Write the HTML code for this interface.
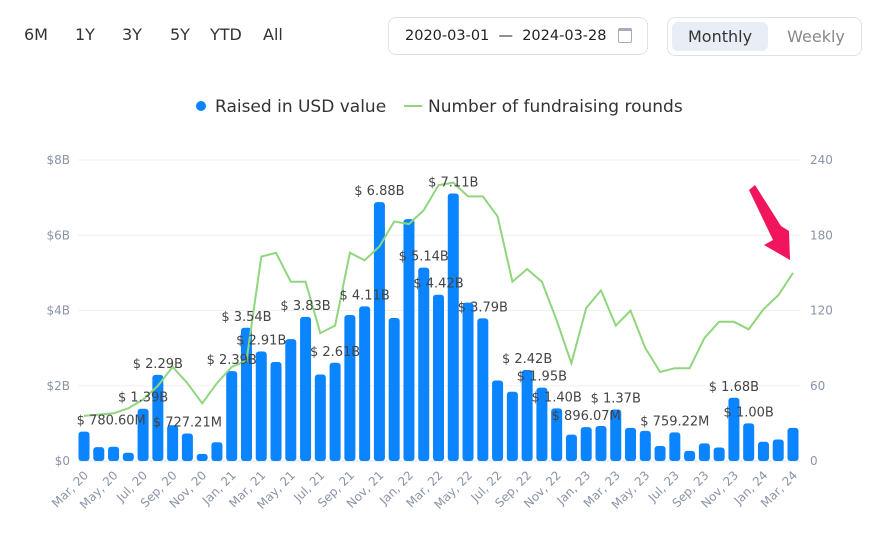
<!DOCTYPE html>
<html><head><meta charset="utf-8"><style>
body{margin:0;width:878px;height:543px;background:#fff;font-family:"DejaVu Sans","Liberation Sans",sans-serif;overflow:hidden;position:relative}
.rng{position:absolute;top:25px;font-size:16px;color:#333}
</style></head><body>
<div class="rng" style="left:24px">6M</div>
<div class="rng" style="left:75px">1Y</div>
<div class="rng" style="left:122px">3Y</div>
<div class="rng" style="left:170px">5Y</div>
<div class="rng" style="left:210px">YTD</div>
<div class="rng" style="left:263px">All</div>
<div style="position:absolute;left:388px;top:17px;width:260px;height:38px;border:1px solid #dde2ea;border-radius:8px;box-sizing:border-box;font-size:14.5px;color:#222;line-height:36px;padding-left:16px">2020-03-01 &nbsp;— &nbsp;2024-03-28<span style="position:absolute;left:229px;top:10px;width:14px;height:15px;border:1.5px solid #aab;border-top-width:3px;border-radius:2px;box-sizing:border-box"></span></div>
<div style="position:absolute;left:667px;top:17px;width:195px;height:39px;border:1px solid #dde2ea;border-radius:8px;box-sizing:border-box">
<div style="position:absolute;left:4px;top:4px;width:96px;height:29px;background:#e9eef6;border-radius:6px;font-size:16px;color:#333;text-align:center;line-height:29px">Monthly</div>
<div style="position:absolute;left:108px;top:4px;width:80px;height:29px;font-size:16px;color:#888;text-align:center;line-height:29px">Weekly</div>
</div>
<svg id="c" width="878" height="543" style="position:absolute;left:0;top:0"></svg>
<script>
const months=["Mar, 20","Apr, 20","May, 20","Jun, 20","Jul, 20","Aug, 20","Sep, 20","Oct, 20","Nov, 20","Dec, 20","Jan, 21","Feb, 21","Mar, 21","Apr, 21","May, 21","Jun, 21","Jul, 21","Aug, 21","Sep, 21","Oct, 21","Nov, 21","Dec, 21","Jan, 22","Feb, 22","Mar, 22","Apr, 22","May, 22","Jun, 22","Jul, 22","Aug, 22","Sep, 22","Oct, 22","Nov, 22","Dec, 22","Jan, 23","Feb, 23","Mar, 23","Apr, 23","May, 23","Jun, 23","Jul, 23","Aug, 23","Sep, 23","Oct, 23","Nov, 23","Dec, 23","Jan, 24","Feb, 24","Mar, 24"];
const raised=[0.78,0.37,0.38,0.22,1.39,2.29,0.95,0.73,0.19,0.5,2.39,3.54,2.91,2.63,3.24,3.83,2.3,2.61,3.88,4.11,6.88,3.8,6.43,5.14,4.42,7.11,4.21,3.79,2.14,1.84,2.42,1.95,1.4,0.7,0.9,0.93,1.37,0.88,0.8,0.4,0.76,0.27,0.47,0.36,1.68,1.0,0.51,0.57,0.88];
const rounds=[36,37,38,42,49,60,75,62,46,62,75,80,163,166,143,143,102,108,166,160,171,191,189,200,220,222,211,211,195,143,153,143,112,78,122,136,108,120,90,71,74,74,98,111,111,105,121,132,150];
const labelIdx=[0,4,5,7,10,11,12,15,17,19,20,23,24,25,27,30,31,32,34,36,40,44,45];
const labelText=["$ 780.60M","$ 1.39B","$ 2.29B","$ 727.21M","$ 2.39B","$ 3.54B","$ 2.91B","$ 3.83B","$ 2.61B","$ 4.11B","$ 6.88B","$ 5.14B","$ 4.42B","$ 7.11B","$ 3.79B","$ 2.42B","$ 1.95B","$ 1.40B","$ 896.07M","$ 1.37B","$ 759.22M","$ 1.68B","$ 1.00B"];
const leftTicks=["$0","$2B","$4B","$6B","$8B"];
const rightTicks=["0","60","120","180","240"];
const svg=document.getElementById('c');const NS="http://www.w3.org/2000/svg";
function mk(t,a,p){const e=document.createElementNS(NS,t);for(const k in a)e.setAttribute(k,a[k]);(p||svg).appendChild(e);return e;}
const y0=461,yT=160,x0=84,dx=(793-84)/(months.length-1);
const xS=i=>x0+dx*i, yL=v=>y0-(y0-yT)*v/8, yR=v=>y0-(y0-yT)*v/240;
for(let k=0;k<5;k++){const y=y0-(y0-yT)*k/4;
 const g=mk('line',{x1:78,x2:800,y1:y,y2:y,stroke:k==0?'#dfe3ea':'#eef0f5','stroke-width':1});
 
 
 const t=mk('text',{x:70,y:y+4,'text-anchor':'end','font-size':12,fill:'#8a94a6'});t.textContent=leftTicks[k];
 
 
 const r=mk('text',{x:810,y:y+4,'font-size':12,fill:'#8a94a6'});r.textContent=rightTicks[k];
 
 }
raised.forEach((v,i)=>{const b=mk('rect',{x:xS(i)-5.5,y:yL(v),width:11,height:Math.max(0,y0-yL(v)),rx:3,fill:'#0a84ff'});
 
 });
const pts=rounds.map((v,i)=>xS(i).toFixed(1)+','+yR(v).toFixed(1)).join(' ');
const pl=mk('polyline',{points:pts,fill:'none',stroke:'#8fd67f','stroke-width':2});


labelIdx.forEach((i,j)=>{let cx=xS(i);const w=labelText[j].length*7.6;if(cx-w/2<77)cx=77+w/2;
 const t=mk('text',{x:cx,y:yL(raised[i])-7,'text-anchor':'middle','font-size':13,fill:'#444'});t.textContent=labelText[j];
 
 });
months.forEach((m,i)=>{if(i%2)return;const x=xS(i)+5,y=476;
 const t=mk('text',{x:x,y:y,'text-anchor':'end','font-size':12,fill:'#8a94a6',transform:`rotate(-45 ${x} ${y})`});t.textContent=m;
 
 });
const lg=mk('g',{});
mk('circle',{cx:201,cy:106,r:5,fill:'#0a84ff'},lg);
const t1=mk('text',{x:215,y:112,'font-size':17,fill:'#333'},lg);t1.textContent="Raised in USD value";


mk('line',{x1:404,x2:422,y1:106,y2:106,stroke:'#8fd67f','stroke-width':2},lg);
const t2=mk('text',{x:428,y:112,'font-size':17,fill:'#333'},lg);t2.textContent="Number of fundraising rounds";


const ar=mk('polygon',{points:'749,190 755,185 781,226 789,231 790,260 764,245 773,240',fill:'#f0155c'});


</script>
</body></html>
